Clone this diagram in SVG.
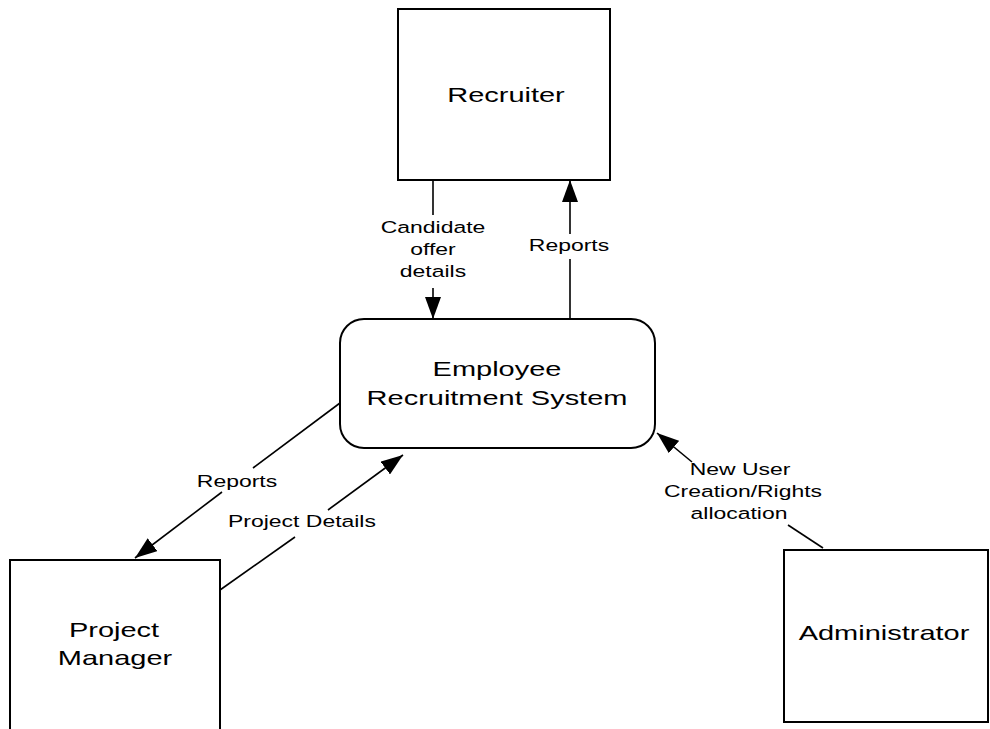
<svg xmlns="http://www.w3.org/2000/svg" width="990" height="729" viewBox="0 0 990 729">
  <defs>
    <marker id="arrow" viewBox="0 0 22 16" refX="22" refY="8" markerWidth="22" markerHeight="16" markerUnits="userSpaceOnUse" orient="auto">
      <path d="M0,0 L22,8 L0,16 Z" fill="#000"/>
    </marker>
  </defs>
  <style>
    .box { fill: #fff; stroke: #000; stroke-width: 2; }
    .node-text { font-family: "Liberation Sans", Arial, sans-serif; font-size: 21px; fill: #000; text-anchor: middle; }
    .flow { fill: none; stroke: #000; stroke-width: 1.6; }
    .label { font-family: "Liberation Sans", Arial, sans-serif; font-size: 17px; fill: #000; text-anchor: middle; }
  </style>
  <rect width="990" height="729" fill="#fff"/>

  <g id="recruiter">
    <rect class="box" x="398" y="9" width="212" height="171"/>
    <text class="node-text" transform="translate(506,102) scale(1.38,1)">Recruiter</text>
  </g>

  <g id="ers">
    <rect class="box" x="340" y="319" width="315" height="129" rx="24" ry="24"/>
    <text class="node-text" transform="translate(497,376) scale(1.38,1)">Employee</text>
    <text class="node-text" transform="translate(497,405) scale(1.38,1)">Recruitment System</text>
  </g>

  <g id="project-manager">
    <rect class="box" x="10" y="560" width="210" height="180"/>
    <text class="node-text" transform="translate(114,637) scale(1.38,1)">Project</text>
    <text class="node-text" transform="translate(115,665) scale(1.38,1)">Manager</text>
  </g>

  <g id="administrator">
    <rect class="box" x="784" y="550" width="204" height="172"/>
    <text class="node-text" transform="translate(884,640) scale(1.38,1)">Administrator</text>
  </g>

  <g id="connectors">
    <!-- Recruiter -> ERS -->
    <path class="flow" d="M433,180 L433,215"/>
    <path class="flow" d="M433,288 L433,319" marker-end="url(#arrow)"/>
    <text class="label" transform="translate(433,233) scale(1.35,1)">Candidate</text>
    <text class="label" transform="translate(433,255) scale(1.35,1)">offer</text>
    <text class="label" transform="translate(433,277) scale(1.35,1)">details</text>

    <!-- ERS -> Recruiter -->
    <path class="flow" d="M570,319 L570,259"/>
    <path class="flow" d="M570,234 L570,180" marker-end="url(#arrow)"/>
    <text class="label" transform="translate(569,251) scale(1.35,1)">Reports</text>

    <!-- ERS -> Project Manager -->
    <path class="flow" d="M340,403 L253,468"/>
    <path class="flow" d="M222,492 L135,558" marker-end="url(#arrow)"/>
    <text class="label" transform="translate(237,487) scale(1.35,1)">Reports</text>

    <!-- Project Manager -> ERS -->
    <path class="flow" d="M220,590 L295,537"/>
    <path class="flow" d="M328,510 L403,455" marker-end="url(#arrow)"/>
    <text class="label" transform="translate(302,527) scale(1.35,1)">Project Details</text>

    <!-- Administrator -> ERS -->
    <path class="flow" d="M823,548 L788,525"/>
    <path class="flow" d="M692,462 L657,433" marker-end="url(#arrow)"/>
    <text class="label" transform="translate(740,475) scale(1.35,1)">New User</text>
    <text class="label" transform="translate(743,497) scale(1.35,1)">Creation/Rights</text>
    <text class="label" transform="translate(739,519) scale(1.35,1)">allocation</text>
  </g>
</svg>
